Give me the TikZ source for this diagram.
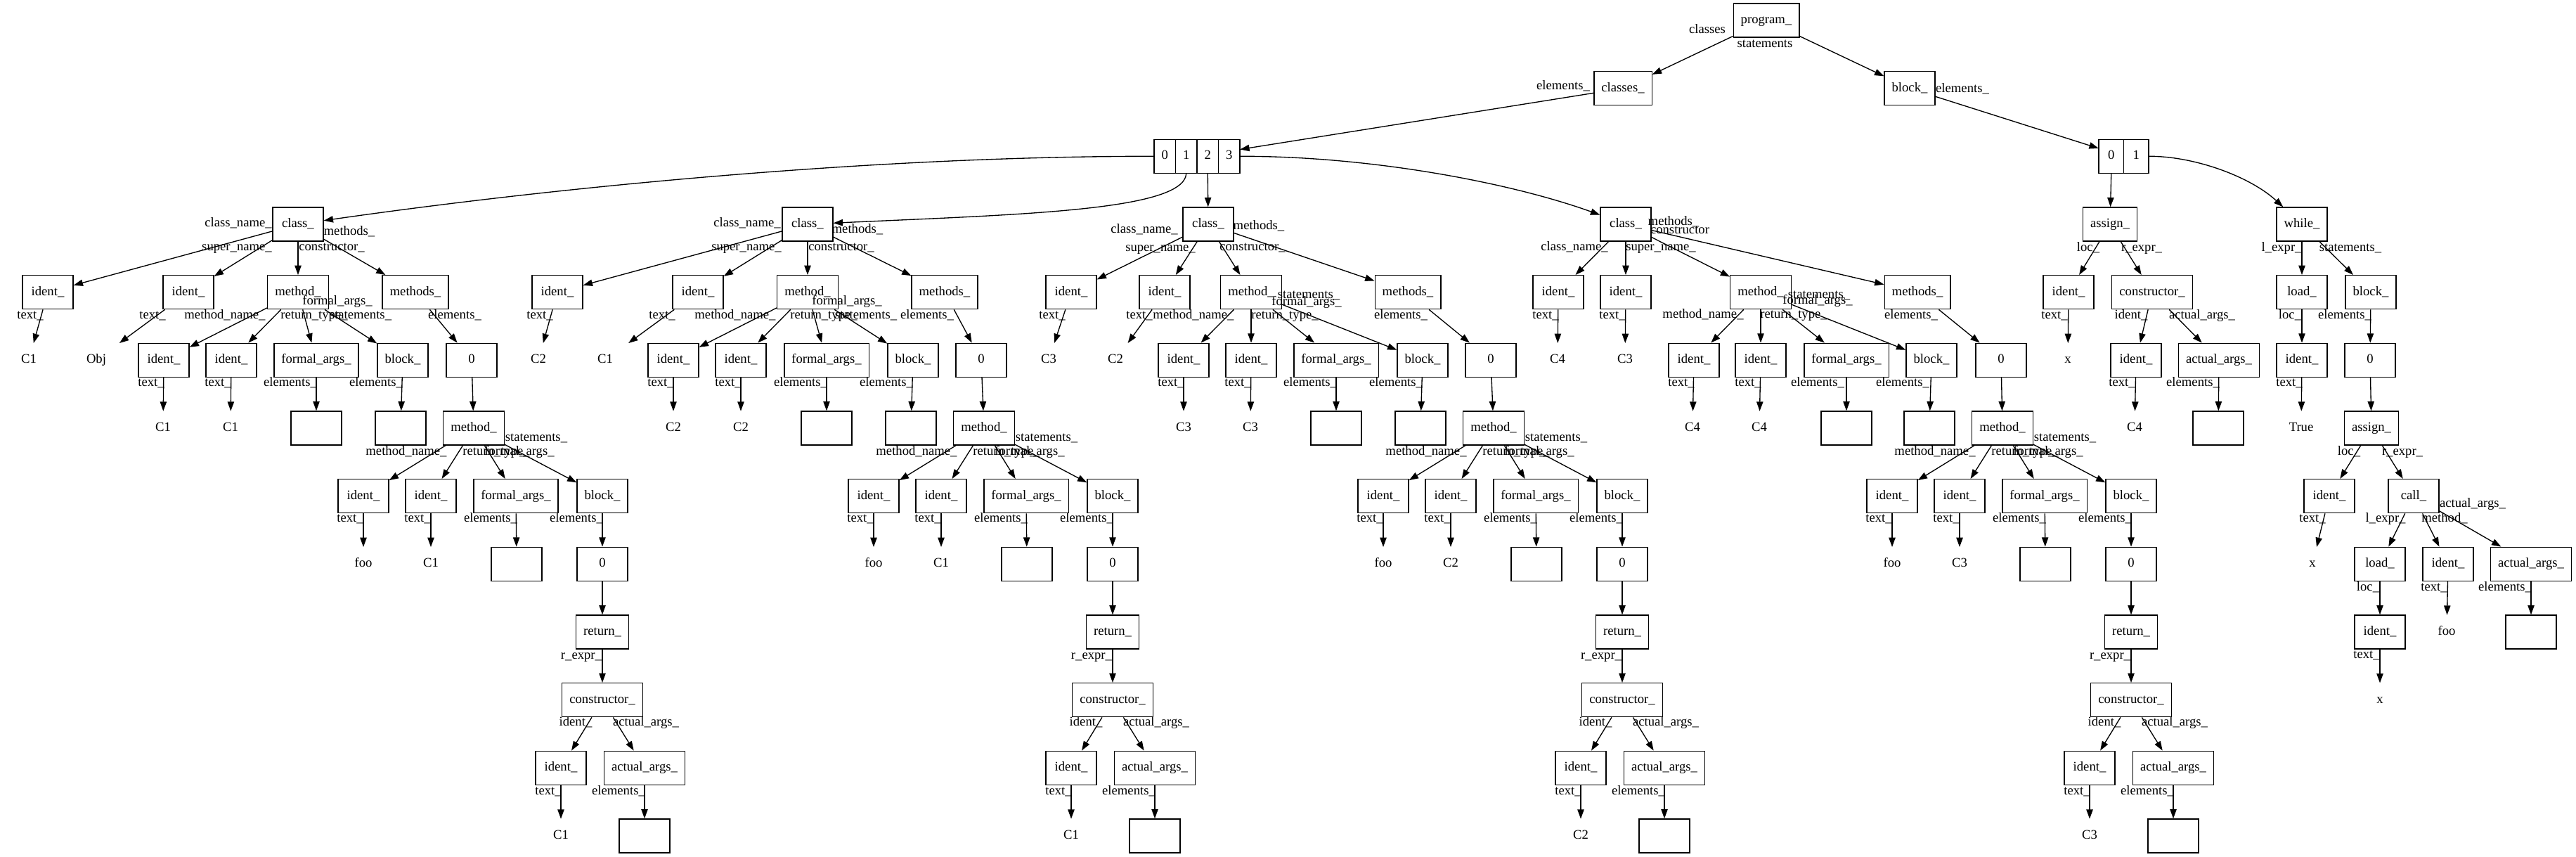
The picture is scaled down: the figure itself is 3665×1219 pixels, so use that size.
\documentclass[tikz,border=0pt]{standalone}
\usepackage{fontspec}
\setmainfont{Liberation Serif}
\usetikzlibrary{arrows.meta,calc}

\newcommand{\gvfont}{\fontsize{14}{16}\selectfont}

\newcommand{\methodtree}[4]{%
  \node[box] (#1-dm) at (#2,609) {method\_};
  \node[lbl] (#1-dLst) at ({#2+89},623) {statements\_};
  \node[lbl] (#1-dLmn) at ({#2-96},643) {method\_name\_};
  \node[lbl] (#1-dLrt) at ({#2+32},643) {return\_type\_};
  \node[lbl] (#1-dLfa) at ({#2+65},643) {formal\_args\_};
  \node[box] (#1-dmn) at ({#2-157},705.7) {ident\_};
  \node[box] (#1-drt) at ({#2-61},705.7) {ident\_};
  \node[box] (#1-dfa) at ({#2+60},705.7) {formal\_args\_};
  \node[box] (#1-dbk) at ({#2+183},705.7) {block\_};
  \node[lbl] (#1-dLt1) at ({#2-176},738) {text\_};
  \node[lbl] (#1-dLt2) at ({#2-80},738) {text\_};
  \node[lbl] (#1-dLe1) at ({#2+24},738) {elements\_};
  \node[lbl] (#1-dLe2) at ({#2+146},738) {elements\_};
  \node[val] (#1-dmnv) at ({#2-157},802.3) {foo};
  \node[val] (#1-drtv) at ({#2-61},802.3) {#3};
  \node[box] (#1-dfae) at ({#2+61},802.3) {};
  \node[box] (#1-dzero) at ({#2+183},802.3) {0};
  \node[box] (#1-dret) at ({#2+183},899) {return\_};
  \node[lbl] (#1-dLre) at ({#2+153},933) {r\_expr\_};
  \node[box] (#1-dctor) at ({#2+183},995.7) {constructor\_};
  \node[lbl] (#1-dLid) at ({#2+145},1028) {ident\_};
  \node[lbl] (#1-dLaa) at ({#2+245},1028) {actual\_args\_};
  \node[box] (#1-dcid) at ({#2+124},1092.3) {ident\_};
  \node[box] (#1-daa) at ({#2+243},1092.3) {actual\_args\_};
  \node[lbl] (#1-dLt3) at ({#2+106},1126) {text\_};
  \node[lbl] (#1-dLe3) at ({#2+206},1126) {elements\_};
  \node[val] (#1-dcidv) at ({#2+124},1189) {#4};
  \node[box] (#1-daae) at ({#2+243},1189) {};
  \foreach \src/\dst in {dm/dmn, dm/drt, dm/dfa, dm/dbk, dmn/dmnv, drt/drtv, dfa/dfae,
      dbk/dzero, dzero/dret, dret/dctor, dctor/dcid, dctor/daa, dcid/dcidv, daa/daae}
    \draw[edge] (#1-\src) -- (#1-\dst);
}

\begin{document}
\begin{tikzpicture}[x=0.75pt, y=-0.75pt,
    box/.style={draw, line width=1pt, minimum width=54pt, minimum height=36pt,
      inner xsep=7.92pt, inner ysep=0pt, text height=9.5pt, text depth=3pt, font=\gvfont},
    val/.style={minimum width=54pt, minimum height=36pt, inner sep=0pt,
      text height=9.5pt, text depth=3pt, font=\gvfont},
    lbl/.style={inner sep=0pt, text height=9.5pt, text depth=3pt, font=\gvfont},
    fld/.style={draw, line width=1pt, minimum height=36pt, inner sep=0pt,
      text height=9.5pt, text depth=3pt, font=\gvfont},
    ghost/.style={minimum height=36pt, inner sep=0pt},
    edge/.style={line width=1pt, -{Triangle[length=10pt,width=7pt]}}]
  \useasboundingbox (0,0) rectangle (3665,1219);

  \node[box] (prog) at (2513,29) {program\_};
  \node[lbl] (Lcl) at (2429,43) {classes};
  \node[lbl] (Lst) at (2511,63) {statements};
  \node[box] (clss) at (2309,125.7) {classes\_};
  \node[lbl] (Lel1) at (2224,123) {elements\_};
  \node[box] (stmts) at (2717,125.7) {block\_};
  \node[lbl] (Lel2) at (2792,127) {elements\_};

  \node[ghost, minimum width=91.5pt] (carr) at (1703,222.3) {};
  \foreach \i/\x in {0/1657.25, 1/1687.75, 2/1718.25, 3/1748.75}
    \node[fld, minimum width=22.875pt] (cf\i) at (\x,222.3) {\i};
  \node[ghost, minimum width=53.25pt] (sarr) at (3021.5,222.3) {};
  \foreach \i/\x in {0/3003.75, 1/3039.25}
    \node[fld, minimum width=26.625pt] (sf\i) at (\x,222.3) {\i};

  % class 1
  \node[box] (a-cls) at (424,319) {class\_};
  \node[lbl] (a-Lcn) at (339,318) {class\_name\_};
  \node[lbl] (a-Lms) at (497,330) {methods\_};
  \node[lbl] (a-Lsn) at (337,352) {super\_name\_};
  \node[lbl] (a-Lct) at (472,352) {constructor\_};
  \node[box] (a-name) at (68,415.7) {ident\_};
  \node[box] (a-sup) at (268,415.7) {ident\_};
  \node[box] (a-ctor) at (424,415.7) {method\_};
  \node[box] (a-meths) at (591,415.7) {methods\_};
  \node[lbl] (a-Lt1) at (43,449) {text\_};
  \node[lbl] (a-Lt2) at (217,449) {text\_};
  \node[lbl] (a-Lmn) at (320,449) {method\_name\_};
  \node[lbl] (a-Lrt) at (447,449) {return\_type\_};
  \node[lbl] (a-Lfa) at (480,429) {formal\_args\_};
  \node[lbl] (a-Lsm) at (513,449) {statements\_};
  \node[lbl] (a-Lel) at (647,449) {elements\_};
  \node[val] (a-namev) at (41,512.3) {C1};
  \node[val] (a-supv) at (137,512.3) {Obj};
  \node[box] (a-mn) at (233,512.3) {ident\_};
  \node[box] (a-rt) at (329,512.3) {ident\_};
  \node[box] (a-fa) at (450,512.3) {formal\_args\_};
  \node[box] (a-bk) at (573,512.3) {block\_};
  \node[box] (a-zero) at (671,512.3) {0};
  \node[lbl] (a-Lt3) at (215,545) {text\_};
  \node[lbl] (a-Lt4) at (310,545) {text\_};
  \node[lbl] (a-Le1) at (413,545) {elements\_};
  \node[lbl] (a-Le2) at (535,545) {elements\_};
  \node[val] (a-mnv) at (232,609) {C1};
  \node[val] (a-rtv) at (328,609) {C1};
  \node[box] (a-fae) at (450,609) {};
  \node[box] (a-bke) at (570,609) {};
  \methodtree{a}{674}{C1}{C1}

  % class 2
  \node[box] (b-cls) at (1149,319) {class\_};
  \node[lbl] (b-Lcn) at (1063,318) {class\_name\_};
  \node[lbl] (b-Lms) at (1220,327) {methods\_};
  \node[lbl] (b-Lsn) at (1062,352) {super\_name\_};
  \node[lbl] (b-Lct) at (1197,352) {constructor\_};
  \node[box] (b-name) at (793,415.7) {ident\_};
  \node[box] (b-sup) at (993,415.7) {ident\_};
  \node[box] (b-ctor) at (1149,415.7) {method\_};
  \node[box] (b-meths) at (1344,415.7) {methods\_};
  \node[lbl] (b-Lt1) at (768,449) {text\_};
  \node[lbl] (b-Lt2) at (942,449) {text\_};
  \node[lbl] (b-Lmn) at (1046,449) {method\_name\_};
  \node[lbl] (b-Lrt) at (1172,449) {return\_type\_};
  \node[lbl] (b-Lfa) at (1205,429) {formal\_args\_};
  \node[lbl] (b-Lsm) at (1232,449) {statements\_};
  \node[lbl] (b-Lel) at (1319,449) {elements\_};
  \node[val] (b-namev) at (766,512.3) {C2};
  \node[val] (b-supv) at (861,512.3) {C1};
  \node[box] (b-mn) at (958,512.3) {ident\_};
  \node[box] (b-rt) at (1054,512.3) {ident\_};
  \node[box] (b-fa) at (1176,512.3) {formal\_args\_};
  \node[box] (b-bk) at (1299,512.3) {block\_};
  \node[box] (b-zero) at (1396,512.3) {0};
  \node[lbl] (b-Lt3) at (940,545) {text\_};
  \node[lbl] (b-Lt4) at (1036,545) {text\_};
  \node[lbl] (b-Le1) at (1139,545) {elements\_};
  \node[lbl] (b-Le2) at (1261,545) {elements\_};
  \node[val] (b-mnv) at (958,609) {C2};
  \node[val] (b-rtv) at (1054,609) {C2};
  \node[box] (b-fae) at (1176,609) {};
  \node[box] (b-bke) at (1296,609) {};
  \methodtree{b}{1400}{C1}{C1}

  % class 3
  \node[box] (c-cls) at (1719,319) {class\_};
  \node[lbl] (c-Lcn) at (1628,327) {class\_name\_};
  \node[lbl] (c-Lms) at (1791,322) {methods\_};
  \node[lbl] (c-Lsn) at (1651,353) {super\_name\_};
  \node[lbl] (c-Lct) at (1782,352) {constructor\_};
  \node[box] (c-name) at (1524,415.7) {ident\_};
  \node[box] (c-sup) at (1657,415.7) {ident\_};
  \node[box] (c-ctor) at (1780,415.7) {method\_};
  \node[box] (c-meths) at (2003,415.7) {methods\_};
  \node[lbl] (c-Lt1) at (1497,449) {text\_};
  \node[lbl] (c-Lt2) at (1621,449) {text\_};
  \node[lbl] (c-Lmn) at (1698,449) {method\_name\_};
  \node[lbl] (c-Lrt) at (1828,449) {return\_type\_};
  \node[lbl] (c-Lsm) at (1862,420) {statements\_};
  \node[lbl] (c-Lfa) at (1859,430) {formal\_args\_};
  \node[lbl] (c-Lel) at (1993,449) {elements\_};
  \node[val] (c-namev) at (1492,512.3) {C3};
  \node[val] (c-supv) at (1587,512.3) {C2};
  \node[box] (c-mn) at (1684,512.3) {ident\_};
  \node[box] (c-rt) at (1780,512.3) {ident\_};
  \node[box] (c-fa) at (1901,512.3) {formal\_args\_};
  \node[box] (c-bk) at (2024,512.3) {block\_};
  \node[box] (c-zero) at (2121,512.3) {0};
  \node[lbl] (c-Lt3) at (1666,545) {text\_};
  \node[lbl] (c-Lt4) at (1761,545) {text\_};
  \node[lbl] (c-Le1) at (1864,545) {elements\_};
  \node[lbl] (c-Le2) at (1986,545) {elements\_};
  \node[val] (c-mnv) at (1684,609) {C3};
  \node[val] (c-rtv) at (1779,609) {C3};
  \node[box] (c-fae) at (1901,609) {};
  \node[box] (c-bke) at (2021,609) {};
  \methodtree{c}{2125}{C2}{C2}

  % class 4
  \node[box] (d-cls) at (2313,319) {class\_};
  \node[lbl] (d-Lms) at (2381,316) {methods\_};
  \node[lbl] (d-Lct) at (2390,328) {constructor};
  \node[lbl] (d-Lcn) at (2240,352) {class\_name\_};
  \node[lbl] (d-Lsn) at (2363,352) {super\_name\_};
  \node[box] (d-name) at (2217,415.7) {ident\_};
  \node[box] (d-sup) at (2313,415.7) {ident\_};
  \node[box] (d-ctor) at (2505,415.7) {method\_};
  \node[box] (d-meths) at (2728,415.7) {methods\_};
  \node[lbl] (d-Lt1) at (2199,449) {text\_};
  \node[lbl] (d-Lt2) at (2294,449) {text\_};
  \node[lbl] (d-Lmn) at (2423,448) {method\_name\_};
  \node[lbl] (d-Lrt) at (2552,448) {return\_type\_};
  \node[lbl] (d-Lsm) at (2588,420) {statements\_};
  \node[lbl] (d-Lfa) at (2586,428) {formal\_args\_};
  \node[lbl] (d-Lel) at (2719,449) {elements\_};
  \node[val] (d-namev) at (2216,512.3) {C4};
  \node[val] (d-supv) at (2312,512.3) {C3};
  \node[box] (d-mn) at (2410,512.3) {ident\_};
  \node[box] (d-rt) at (2505,512.3) {ident\_};
  \node[box] (d-fa) at (2627,512.3) {formal\_args\_};
  \node[box] (d-bk) at (2748,512.3) {block\_};
  \node[box] (d-zero) at (2847,512.3) {0};
  \node[lbl] (d-Lt3) at (2392,545) {text\_};
  \node[lbl] (d-Lt4) at (2487,545) {text\_};
  \node[lbl] (d-Le1) at (2586,545) {elements\_};
  \node[lbl] (d-Le2) at (2707,545) {elements\_};
  \node[val] (d-mnv) at (2408,609) {C4};
  \node[val] (d-rtv) at (2503,609) {C4};
  \node[box] (d-fae) at (2627,609) {};
  \node[box] (d-bke) at (2745,609) {};
  \methodtree{d}{2849}{C3}{C3}

  \foreach \k in {a,b,c,d}
    \foreach \src/\dst in {cls/name, cls/sup, cls/ctor, cls/meths, name/namev, sup/supv,
        ctor/mn, ctor/rt, ctor/fa, ctor/bk, meths/zero, mn/mnv, rt/rtv, fa/fae, bk/bke, zero/dm}
      \draw[edge] (\k-\src) -- (\k-\dst);

  % statements
  \node[box] (s-asg) at (3002,319) {assign\_};
  \node[lbl] (s-Lloc) at (2971,353) {loc\_};
  \node[lbl] (s-Lre) at (3047,353) {r\_expr\_};
  \node[box] (s-id) at (2943,415.7) {ident\_};
  \node[box] (s-ctor) at (3062,415.7) {constructor\_};
  \node[lbl] (s-Lt1) at (2923,449) {text\_};
  \node[lbl] (s-Lid) at (3032,449) {ident\_};
  \node[lbl] (s-Laa) at (3133,449) {actual\_args\_};
  \node[val] (s-idv) at (2942,512.3) {x};
  \node[box] (s-cid) at (3039,512.3) {ident\_};
  \node[box] (s-caa) at (3157,512.3) {actual\_args\_};
  \node[lbl] (s-Lt2) at (3019,545) {text\_};
  \node[lbl] (s-Le1) at (3120,545) {elements\_};
  \node[val] (s-cidv) at (3037,609) {C4};
  \node[box] (s-caae) at (3156,609) {};

  \node[box] (s-wh) at (3275,319) {while\_};
  \node[lbl] (s-Lle) at (3246,353) {l\_expr\_};
  \node[lbl] (s-Lsm) at (3344,353) {statements\_};
  \node[box] (s-ld) at (3275,415.7) {load\_};
  \node[box] (s-bk) at (3373,415.7) {block\_};
  \node[lbl] (s-Lloc2) at (3258,449) {loc\_};
  \node[lbl] (s-Le2) at (3336,449) {elements\_};
  \node[box] (s-ldid) at (3275,512.3) {ident\_};
  \node[box] (s-zero) at (3372,512.3) {0};
  \node[lbl] (s-Lt3) at (3257,545) {text\_};
  \node[val] (s-true) at (3274,609) {True};
  \node[box] (s-asg2) at (3374,609) {assign\_};
  \node[lbl] (s-Lloc3) at (3342,643) {loc\_};
  \node[lbl] (s-Lre2) at (3418,643) {r\_expr\_};
  \node[box] (s-id2) at (3314,705.7) {ident\_};
  \node[box] (s-call) at (3434,705.7) {call\_};
  \node[lbl] (s-Laa2) at (3518,717) {actual\_args\_};
  \node[lbl] (s-Lt4) at (3290,738) {text\_};
  \node[lbl] (s-Lle2) at (3394,738) {l\_expr\_};
  \node[lbl] (s-Lme) at (3478,738) {method\_};
  \node[val] (s-id2v) at (3290,802.3) {x};
  \node[box] (s-ld2) at (3386,802.3) {load\_};
  \node[box] (s-id3) at (3483,802.3) {ident\_};
  \node[box] (s-caa2) at (3601,802.3) {actual\_args\_};
  \node[lbl] (s-Lloc4) at (3369,836) {loc\_};
  \node[lbl] (s-Lt5) at (3463,836) {text\_};
  \node[lbl] (s-Le3) at (3564,836) {elements\_};
  \node[box] (s-ld2id) at (3386,899) {ident\_};
  \node[val] (s-foo) at (3481,899) {foo};
  \node[box] (s-caa2e) at (3601,899) {};
  \node[lbl] (s-Lt6) at (3367,932) {text\_};
  \node[val] (s-x2) at (3386,995.7) {x};

  \foreach \src/\dst in {asg/id, asg/ctor, id/idv, ctor/cid, ctor/caa, cid/cidv, caa/caae,
      wh/ld, wh/bk, ld/ldid, ldid/true, bk/zero, zero/asg2, asg2/id2, asg2/call, id2/id2v,
      call/ld2, call/id3, call/caa2, ld2/ld2id, ld2id/x2, id3/foo, caa2/caa2e}
    \draw[edge] (s-\src) -- (s-\dst);

  \draw[edge] (prog) -- (clss);
  \draw[edge] (prog) -- (stmts);
  \draw[edge] (clss) -- (carr);
  \draw[edge] (stmts) -- (sarr);
  \draw[edge] (cf0.west) .. controls (1250,222) and (800,265) .. (a-cls);
  \draw[edge] (cf1.south) .. controls (1684,300) and (1450,305) .. (b-cls);
  \draw[edge] (cf2.south) -- (c-cls);
  \draw[edge] (cf3.east) .. controls (1950,222) and (2150,260) .. (d-cls);
  \draw[edge] (sf0.south) -- (s-asg);
  \draw[edge] (sf1.east) .. controls (3120,222) and (3200,250) .. (s-wh);
\end{tikzpicture}
\end{document}
